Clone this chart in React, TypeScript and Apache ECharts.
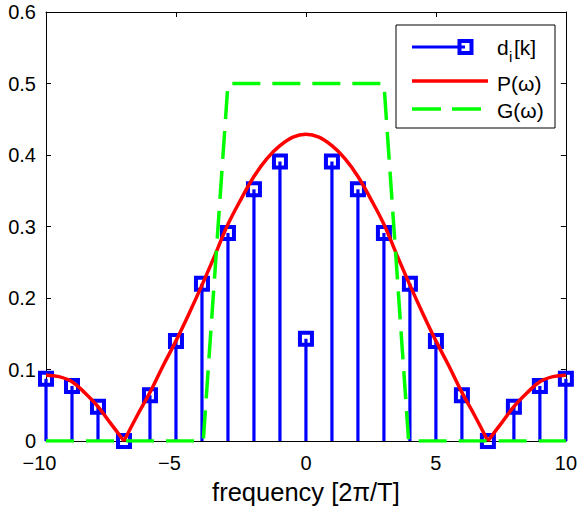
import React, { useEffect, useRef } from "react";
import * as echarts from "echarts";

const FONT = "'Liberation Sans', Arial, Helvetica, sans-serif";

// stem data d_i[k]
const K = [-10, -9, -8, -7, -6, -5, -4, -3, -2, -1, 0, 1, 2, 3, 4, 5, 6, 7, 8, 9, 10];
const D = [0.087, 0.077, 0.048, 0.0, 0.064, 0.14, 0.22, 0.291, 0.352, 0.391, 0.143, 0.391, 0.352, 0.291, 0.22, 0.14, 0.064, 0.0, 0.048, 0.077, 0.087];

// P(omega)
const P_W = [
  -10, -9.5, -9, -8.5, -8, -7.5, -7, -6.5, -6, -5.5, -5, -4.5, -4, -3.5, -3, -2.5, -2, -1.5, -1, -0.5, 0,
  0.5, 1, 1.5, 2, 2.5, 3, 3.5, 4, 4.5, 5, 5.5, 6, 6.5, 7, 7.5, 8, 8.5, 9, 9.5, 10,
];
const P_V = [
  0.092, 0.09, 0.083, 0.067, 0.048, 0.024, 0.0, 0.035, 0.068, 0.105, 0.14, 0.178, 0.218, 0.26, 0.303, 0.338, 0.37, 0.395, 0.413, 0.425, 0.429,
  0.425, 0.413, 0.395, 0.37, 0.338, 0.303, 0.26, 0.218, 0.178, 0.14, 0.105, 0.068, 0.035, 0.0, 0.024, 0.048, 0.067, 0.083, 0.09, 0.092,
];

// G(omega)
const G_W = [-10, -3.95, -3.0, 3.0, 3.95, 10];
const G_V = [0, 0, 0.5, 0.5, 0, 0];

const X_TICKS = [-10, -5, 0, 5, 10];
const Y_TICKS = [0, 0.1, 0.2, 0.3, 0.4, 0.5, 0.6];

const BLUE = "#0000ff";
const RED = "#ff0000";
const GREEN = "#00ff00";

export default function App() {
  const ref = useRef<HTMLDivElement>(null);
  useEffect(() => {
    if (!ref.current) return;
    const chart = echarts.init(ref.current, undefined, { renderer: "svg" });

    const pairs = (w: number[], v: number[]) => w.map((x, i) => [x, v[i]]);
    const pAll = pairs(P_W, P_V);
    const i1 = P_W.indexOf(-7);
    const i2 = P_W.indexOf(7);
    const pSegs = [pAll.slice(0, i1 + 1), pAll.slice(i1, i2 + 1), pAll.slice(i2)];

    const axisCommon = {
      min: X_TICKS[0],
      max: X_TICKS[X_TICKS.length - 1],
      interval: 5,
      axisLine: { show: true, onZero: false, lineStyle: { color: "#000", width: 1 } },
      axisTick: { show: true, inside: true, length: 5, lineStyle: { color: "#000", width: 1 } },
      splitLine: { show: false },
    };
    const yCommon = {
      min: Y_TICKS[0],
      max: Y_TICKS[Y_TICKS.length - 1],
      interval: 0.1,
      axisLine: { show: true, onZero: false, lineStyle: { color: "#000", width: 1 } },
      axisTick: { show: true, inside: true, length: 5, lineStyle: { color: "#000", width: 1 } },
      splitLine: { show: false },
    };

    const redSeries = pSegs.map((seg) => ({
      type: "line",
      data: seg,
      showSymbol: false,
      smooth: 0.4,
      lineStyle: { color: RED, width: 3.5 },
      z: 3,
      silent: true,
    }));

    const legendText = (text: string, x: number, y: number, size = 21) => ({
      type: "text",
      x,
      y,
      z: 101,
      style: { text, fill: "#000", font: `${size}px ${FONT}`, textVerticalAlign: "middle", textAlign: "left" },
    });

    chart.setOption({
      animation: false,
      backgroundColor: "#fff",
      grid: { left: 46, right: 13, top: 12, bottom: 72, containLabel: false },
      xAxis: [
        {
          type: "value",
          position: "bottom",
          ...axisCommon,
          name: "frequency [2\u03c0/T]",
          nameLocation: "middle",
          nameGap: 38,
          nameTextStyle: { fontFamily: FONT, fontSize: 25.5, color: "#000" },
          axisLabel: {
            show: true,
            margin: 12,
            fontFamily: FONT,
            fontSize: 20,
            color: "#000",
            showMinLabel: true,
            showMaxLabel: true,
            formatter: (v: number) => (v < 0 ? `{n|\u2212${-v}}` : `${v}`),
            rich: { n: { fontFamily: FONT, fontSize: 20, color: "#000", padding: [0, 13, 0, 0] } },
          },
        },
        {
          type: "value",
          position: "top",
          ...axisCommon,
          axisLabel: { show: false },
        },
      ],
      yAxis: [
        {
          type: "value",
          position: "left",
          ...yCommon,
          axisLabel: {
            show: true,
            margin: 10,
            fontFamily: FONT,
            fontSize: 20,
            color: "#000",
            showMinLabel: true,
            showMaxLabel: true,
            formatter: (v: number) => (Math.abs(v) < 1e-9 ? "0" : String(+v.toFixed(1))),
          },
        },
        {
          type: "value",
          position: "right",
          ...yCommon,
          axisLabel: { show: false },
        },
      ],
      series: [
        {
          type: "custom",
          clip: false,
          z: 2,
          silent: true,
          data: K.map((k, i) => [k, D[i]]),
          renderItem: (params: any, api: any) => {
            const x = api.value(0);
            const y = api.value(1);
            const b = api.coord([x, 0]);
            const t = api.coord([x, y]);
            const s = 12;
            return {
              type: "group",
              children: [
                {
                  type: "line",
                  shape: { x1: b[0], y1: b[1], x2: t[0], y2: t[1] },
                  style: { stroke: BLUE, lineWidth: 3.2 },
                },
                {
                  type: "rect",
                  shape: { x: t[0] - s / 2, y: t[1] - s / 2, width: s, height: s },
                  style: { stroke: BLUE, fill: "none", lineWidth: 4 },
                },
              ],
            };
          },
        },
        ...redSeries,
        {
          type: "line",
          data: pairs(G_W, G_V),
          showSymbol: false,
          lineStyle: { color: GREEN, width: 3.5, type: [28, 12] },
          z: 4,
          silent: true,
        },
      ],
      graphic: [
        {
          type: "rect",
          z: 100,
          shape: { x: 396, y: 25, width: 159, height: 103 },
          style: { fill: "#fff", stroke: "#000", lineWidth: 1 },
        },
        {
          type: "line",
          z: 101,
          shape: { x1: 412, y1: 47, x2: 465, y2: 47 },
          style: { stroke: BLUE, lineWidth: 3 },
        },
        {
          type: "rect",
          z: 101,
          shape: { x: 459.5, y: 41, width: 12, height: 12 },
          style: { stroke: BLUE, fill: "none", lineWidth: 4 },
        },
        legendText("d", 497, 47),
        legendText("i", 509, 56, 15),
        legendText("[k]", 514, 47),
        {
          type: "line",
          z: 101,
          shape: { x1: 412, y1: 81, x2: 488, y2: 81 },
          style: { stroke: RED, lineWidth: 3.5 },
        },
        legendText("P(\u03c9)", 497, 83),
        {
          type: "line",
          z: 101,
          shape: { x1: 412, y1: 109, x2: 441, y2: 109 },
          style: { stroke: GREEN, lineWidth: 3.5 },
        },
        {
          type: "line",
          z: 101,
          shape: { x1: 452, y1: 109, x2: 481, y2: 109 },
          style: { stroke: GREEN, lineWidth: 3.5 },
        },
        legendText("G(\u03c9)", 497, 110),
      ],
    });
    return () => chart.dispose();
  }, []);
  return (
    <div
      ref={ref}
      style={{ position: "fixed", left: 0, top: 0, width: 580, height: 513, background: "#fff" }}
    />
  );
}
